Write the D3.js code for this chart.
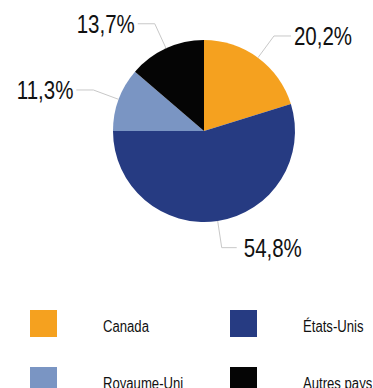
<!DOCTYPE html>
<html>
<head>
<meta charset="utf-8">
<script src="https://cdn.jsdelivr.net/npm/d3@7"></script>
<style>
  html, body { margin: 0; padding: 0; background: #fff; }
  svg { display: block; }
  text { font-family: "Liberation Sans", Arial, sans-serif; fill: #111; }
</style>
</head>
<body>
<svg id="chart" width="373" height="388"></svg>
<script>
// Share of each origin (%)
const categories = ["Canada", "États-Unis", "Royaume-Uni", "Autres pays"];
const values = [20.2, 54.8, 11.3, 13.7];
const valueLabels = ["20,2%", "54,8%", "11,3%", "13,7%"];
const colors = ["#F5A11F", "#263B82", "#7A95C3", "#050505"];

const svg = d3.select("#chart");
const cx = 204, cy = 131, radius = 91;
const narrow = 0.82; // horizontal condensing of the typeface

const color = d3.scaleOrdinal().domain(categories).range(colors);

const pie = d3.pie().sort(null).value(d => d.value);
const data = categories.map((c, i) => ({ name: c, value: values[i], label: valueLabels[i] }));
const arcs = pie(data);

const arc = d3.arc().innerRadius(0).outerRadius(radius);

const g = svg.append("g").attr("transform", `translate(${cx},${cy})`);

g.selectAll("path.slice")
  .data(arcs)
  .join("path")
  .attr("class", "slice")
  .attr("d", arc)
  .attr("fill", d => color(d.data.name));

// Leader lines and value labels
const edgeArc = d3.arc().innerRadius(radius).outerRadius(radius);
const elbowArc = d3.arc().innerRadius(118).outerRadius(118);

arcs.forEach(d => {
  const mid = (d.startAngle + d.endAngle) / 2;
  const p0 = edgeArc.centroid(d);
  const p1 = elbowArc.centroid(d);
  const bottom = Math.abs(mid - Math.PI) < 0.3;
  let p2, tx, anchor;
  if (bottom) {
    p2 = [p1[0] + 15, p1[1]];
    tx = p2[0] + 7; anchor = "start";
  } else {
    const side = Math.sin(mid) >= 0 ? 1 : -1;
    p2 = [p1[0] + side * 17, p1[1]];
    tx = p2[0] + side * 3; anchor = side > 0 ? "start" : "end";
  }
  g.append("polyline")
    .attr("points", [p0, p1, p2].map(p => p.join(",")).join(" "))
    .attr("fill", "none")
    .attr("stroke", "#c8c8c8")
    .attr("stroke-width", 1);
  g.append("text")
    .attr("transform", `translate(${tx},${p2[1]}) scale(${narrow},1)`)
    .attr("dy", "0.36em")
    .attr("text-anchor", anchor)
    .style("font-size", "25px")
    .text(d.data.label);
});

// Legend: two columns, two rows
const legend = svg.append("g");
const colX = [30, 230], rowY = [310, 367];
categories.forEach((c, i) => {
  const x = colX[i % 2], y = rowY[Math.floor(i / 2)];
  legend.append("rect")
    .attr("x", x).attr("y", y)
    .attr("width", 27).attr("height", 27)
    .attr("fill", color(c));
  legend.append("text")
    .attr("transform", `translate(${x + 73},${y + 22}) scale(${narrow},1)`)
    .style("font-size", "16px")
    .text(c);
});
</script>
</body>
</html>
